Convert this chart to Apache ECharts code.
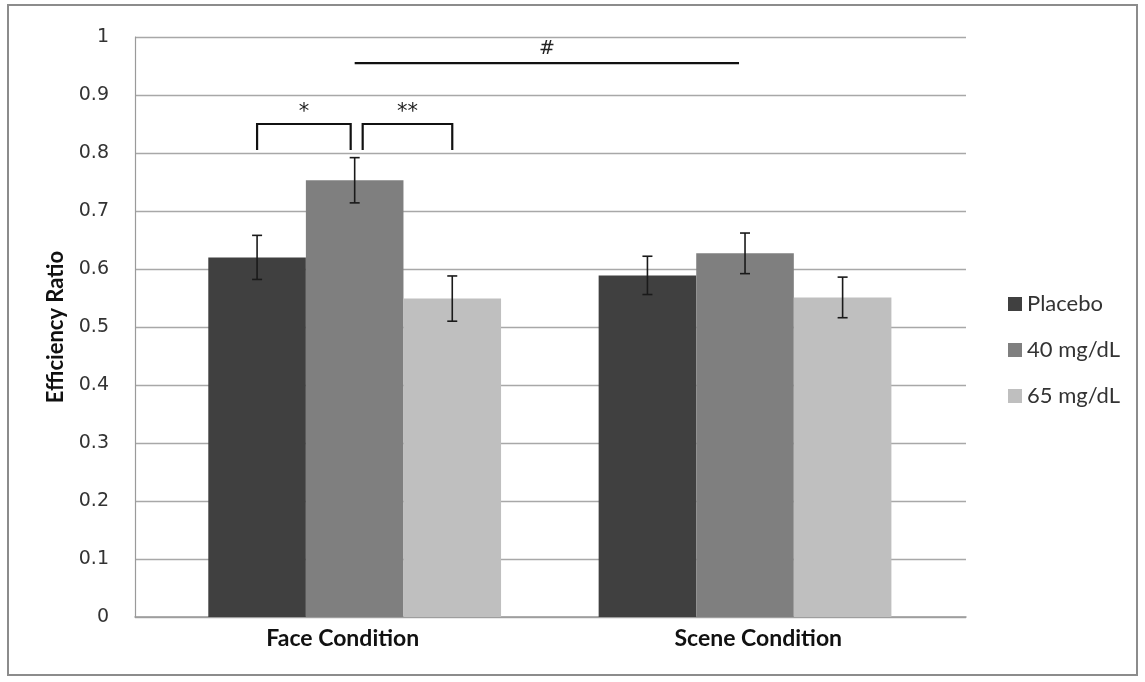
<!DOCTYPE html>
<html>
<head>
<meta charset="utf-8">
<script src="https://cdn.jsdelivr.net/npm/echarts@6/dist/echarts.min.js"></script>
<style>
html,body{margin:0;padding:0;background:#fff;}
#frame{position:absolute;left:7px;top:4px;width:1131px;height:672px;border:2px solid #8c8c8c;box-sizing:border-box;}
#chart{position:absolute;left:0;top:0;width:1145px;height:682px;}
</style>
</head>
<body>
<div id="frame"></div>
<div id="chart"></div>
<script>
// ---- data ----
const categories = ['Face Condition', 'Scene Condition'];
const seriesNames = ['Placebo', '40 mg/dL', '65 mg/dL'];
const placebo = [0.620, 0.589];
const mg40 = [0.753, 0.627];
const mg65 = [0.549, 0.551];
const placeboErr = [0.038, 0.033];
const mg40Err = [0.039, 0.035];
const mg65Err = [0.039, 0.035];
const yMin = 0, yMax = 1, yStep = 0.1;
// significance brackets: category, from series, to series, top value, leg bottom value, label
const bracketCat = [0, 0];
const bracketFrom = [0, 1];
const bracketTo = [1, 2];
const bracketTop = [0.85, 0.85];
const bracketBottom = [0.805, 0.805];
const bracketLabels = ['*', '**'];
// long comparison line: from (category, series) to (category, series) at value
const lineFromCat = 0, lineFromSeries = 1, lineToCat = 1, lineToSeries = 1;
const lineValue = 0.955;
const lineLabel = '#';

const colors = ['#404040', '#7f7f7f', '#bfbfbf'];
const values = [placebo, mg40, mg65];
const errs = [placeboErr, mg40Err, mg65Err];
const GAP = 0.25; // barCategoryGap fraction
const FONT = 'Lato, "Open Sans", sans-serif';

function barOffset(api, s) {
  const band = api.size([1, 0])[0];
  const bw = band * (1 - GAP) / 3;
  return (s - 1) * bw;
}

const chart = echarts.init(document.getElementById('chart'));

const series = [];
values.forEach((vals, s) => {
  series.push({
    name: seriesNames[s], type: 'bar', xAxisIndex: 1, yAxisIndex: 1,
    data: vals, barGap: '0%', barCategoryGap: (GAP * 100) + '%',
    itemStyle: { color: colors[s] }, z: 2
  });
});
values.forEach((vals, s) => {
  series.push({
    type: 'custom', xAxisIndex: 1, yAxisIndex: 1, z: 5, silent: true,
    data: vals.map((v, i) => [i, v, errs[s][i]]),
    encode: { x: 0, y: 1 },
    renderItem: function (params, api) {
      const ci = api.value(0), v = api.value(1), e = api.value(2);
      const off = barOffset(api, s);
      const hi = api.coord([ci, v + e]);
      const lo = api.coord([ci, v - e]);
      const x = hi[0] + off;
      const cw = 5;
      const st = { stroke: '#1a1a1a', lineWidth: 1.6 };
      return { type: 'group', children: [
        { type: 'line', shape: { x1: x, y1: hi[1], x2: x, y2: lo[1] }, style: st },
        { type: 'line', shape: { x1: x - cw, y1: hi[1], x2: x + cw, y2: hi[1] }, style: st },
        { type: 'line', shape: { x1: x - cw, y1: lo[1], x2: x + cw, y2: lo[1] }, style: st }
      ]};
    }
  });
});
// brackets
series.push({
  type: 'custom', xAxisIndex: 1, yAxisIndex: 1, z: 6, silent: true,
  data: bracketCat.map((c, i) => [c, bracketTop[i], i]),
  encode: { x: 0, y: 1 },
  renderItem: function (params, api) {
    const i = api.value(2);
    const c = bracketCat[i];
    const a = api.coord([c, bracketTop[i]]);
    const b = api.coord([c, bracketBottom[i]]);
    const x1 = a[0] + barOffset(api, bracketFrom[i]) + (i === 1 ? 8 : 0);
    const x2 = a[0] + barOffset(api, bracketTo[i]) - (i === 0 ? 4 : 0);
    const st = { stroke: '#111', lineWidth: 2.2, fill: null };
    return { type: 'group', children: [
      { type: 'polyline', shape: { points: [[x1, b[1]], [x1, a[1]], [x2, a[1]], [x2, b[1]]] }, style: st },
      { type: 'text', style: { text: bracketLabels[i], x: (x1 + x2) / 2, y: a[1] - 11, align: 'center', verticalAlign: 'middle',
        fontFamily: '"DejaVu Sans", sans-serif', fontSize: 21, fill: '#222' } }
    ]};
  }
});
// long line with '#'
series.push({
  type: 'custom', xAxisIndex: 1, yAxisIndex: 1, z: 6, silent: true,
  data: [[lineFromCat, lineValue]],
  encode: { x: 0, y: 1 },
  renderItem: function (params, api) {
    const a = api.coord([lineFromCat, lineValue]);
    const b = api.coord([lineToCat, lineValue]);
    const x1 = a[0] + barOffset(api, lineFromSeries);
    const x2 = b[0] + barOffset(api, lineToSeries) - 6;
    return { type: 'group', children: [
      { type: 'line', shape: { x1: x1, y1: a[1], x2: x2, y2: a[1] }, style: { stroke: '#111', lineWidth: 2.4 } },
      { type: 'text', style: { text: lineLabel, x: (x1 + x2) / 2, y: a[1] - 14, align: 'center', verticalAlign: 'middle',
        fontFamily: '"DejaVu Sans", sans-serif', fontSize: 19, fill: '#222' } }
    ]};
  }
});

chart.setOption({
  animation: false,
  backgroundColor: 'transparent',
  color: colors,
  legend: {
    orient: 'vertical', left: 1003, top: 288, itemWidth: 14, itemHeight: 14, itemGap: 24,
    icon: 'rect', data: seriesNames,
    textStyle: { fontFamily: FONT, fontSize: 22, color: '#333' }
  },
  grid: [
    { left: 135, right: 179, top: 37, bottom: 65, containLabel: false },
    { left: 159.5, right: 204.8, top: 37, bottom: 65, containLabel: false }
  ],
  xAxis: [
    { type: 'category', gridIndex: 0, data: categories,
      axisLine: { show: true, lineStyle: { color: '#9a9a9a', width: 1.5 } },
      axisTick: { show: false },
      axisLabel: { margin: 10, fontFamily: FONT, fontWeight: 'bold', fontSize: 23, color: '#111' } },
    { type: 'category', gridIndex: 1, data: categories, show: false }
  ],
  yAxis: [
    { type: 'value', gridIndex: 0, min: yMin, max: yMax, interval: yStep,
      name: 'Efficiency Ratio', nameLocation: 'middle', nameGap: 68, nameRotate: 90,
      nameTextStyle: { fontFamily: FONT, fontWeight: 'bold', fontSize: 22, color: '#111' },
      axisLine: { show: true, lineStyle: { color: '#9a9a9a', width: 1.2 } },
      axisTick: { show: false },
      axisLabel: { margin: 26, fontFamily: '"DejaVu Sans", sans-serif', fontSize: 19, color: '#333' },
      splitLine: { show: true, lineStyle: { color: '#a8a8a8', width: 1.3 } } },
    { type: 'value', gridIndex: 1, min: yMin, max: yMax, interval: yStep, show: false, splitLine: { show: false } }
  ],
  series: series
});
</script>
</body>
</html>
